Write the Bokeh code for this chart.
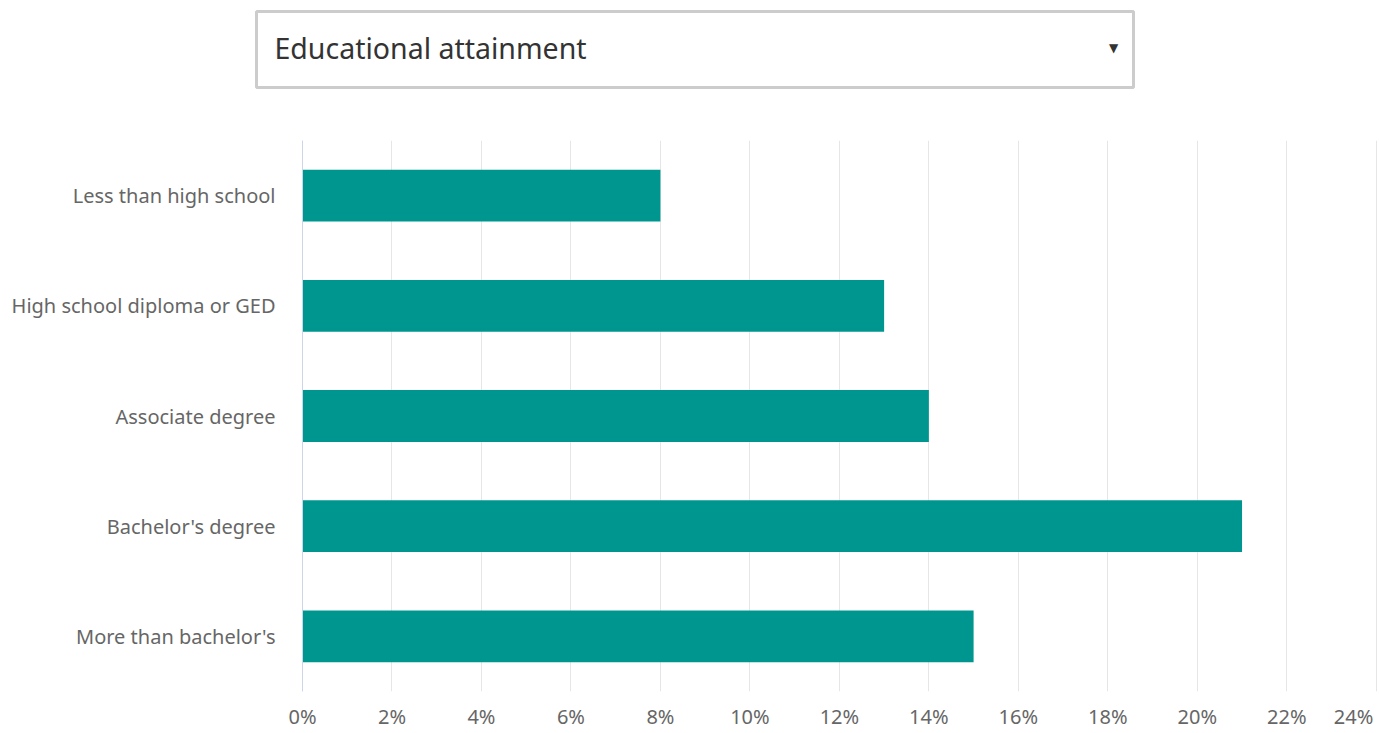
from bokeh.plotting import figure
from bokeh.layouts import column
from bokeh.models import (FactorRange, Range1d, FixedTicker, PrintfTickFormatter)
from bokeh.core.properties import value
from bokeh.embed import file_html
from bokeh.resources import INLINE

# ---- data ----
categories = ["Less than high school", "High school diploma or GED", "Associate degree",
              "Bachelor's degree", "More than bachelor's"]
shares = [8, 13, 14, 21, 15]  # percent
x_ticks = list(range(0, 25, 2))
dropdown_label = "Educational attainment"

FONT = "Noto Sans"
W = 1378

# ---- header (dropdown look-alike) ----
hdr = figure(width=W, height=110, x_range=Range1d(0, W), y_range=Range1d(110, 0),
             output_backend="svg", toolbar_location=None, min_border=0)
hdr.frame_align = False
hdr.axis.visible = False
hdr.grid.visible = False
hdr.outline_line_color = None
hdr.quad(left=[256], right=[1133], top=[11], bottom=[87], fill_color="white",
         line_color="#cccccc", line_width=3)
hdr.text(x=[274], y=[47], text=[dropdown_label], text_font=value(FONT),
         text_font_size="28.5px", text_color="#333333", text_baseline="middle")
hdr.text(x=[1113], y=[47], text=["\u25BC"], text_font=value("DejaVu Sans"),
         text_font_size="12px", text_color="#333333", text_baseline="middle",
         text_align="center")

# ---- main bar chart ----
p = figure(width=W, height=622, y_range=FactorRange(factors=categories[::-1]),
           x_range=Range1d(0, 24.05), output_backend="svg", toolbar_location=None,
           min_border_left=302, min_border_right=0, min_border_top=30, min_border_bottom=36)
p.frame_align = False
p.outline_line_color = None
p.hbar(y=categories, right=shares, height=0.47, fill_color="#009690", line_color=None)

p.xaxis.ticker = FixedTicker(ticks=x_ticks)
p.xaxis.formatter = PrintfTickFormatter(format="%d%%")
# last label is kept inside the canvas (shifted left like the original)
p.xaxis.major_label_overrides = {24: "24%" + "\u00a0"}
p.xaxis.axis_line_color = None
p.xaxis.major_tick_line_color = None
p.xaxis.minor_tick_line_color = None
p.xaxis.major_tick_out = 0
p.xaxis.major_tick_in = 0
p.xaxis.major_label_standoff = 11
p.axis.major_label_text_font = FONT
p.axis.major_label_text_font_size = "20px"
p.axis.major_label_text_color = "#666666"

p.yaxis.axis_line_color = "#ccd6eb"
p.yaxis.axis_line_width = 1
p.yaxis.major_tick_line_color = None
p.yaxis.minor_tick_line_color = None
p.yaxis.major_tick_out = 0
p.yaxis.major_tick_in = 0
p.yaxis.major_label_standoff = 27

p.ygrid.grid_line_color = None
p.xgrid.grid_line_color = "#e6e6e6"
p.xgrid.grid_line_width = 1

layout = column(hdr, p, spacing=0)
open("out.html", "w").write(file_html(layout, INLINE))
